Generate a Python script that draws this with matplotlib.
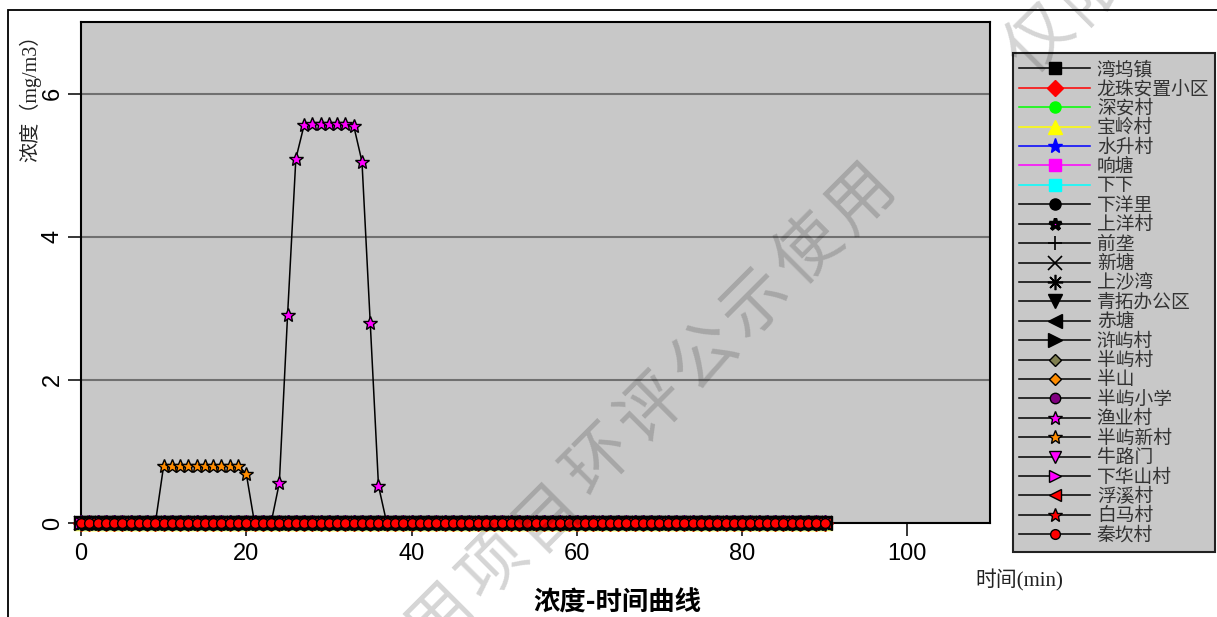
import matplotlib
matplotlib.use("Agg")
import matplotlib.pyplot as plt
from matplotlib.patches import Rectangle

# ---------------- data ----------------
time_min = list(range(0, 91))

zero_series = [0.0, 0.0, 0.0, 0.0, 0.0, 0.0, 0.0, 0.0, 0.0, 0.0,
               0.0, 0.0, 0.0, 0.0, 0.0, 0.0, 0.0, 0.0, 0.0, 0.0,
               0.0, 0.0, 0.0, 0.0, 0.0, 0.0, 0.0, 0.0, 0.0, 0.0,
               0.0, 0.0, 0.0, 0.0, 0.0, 0.0, 0.0, 0.0, 0.0, 0.0,
               0.0, 0.0, 0.0, 0.0, 0.0, 0.0, 0.0, 0.0, 0.0, 0.0,
               0.0, 0.0, 0.0, 0.0, 0.0, 0.0, 0.0, 0.0, 0.0, 0.0,
               0.0, 0.0, 0.0, 0.0, 0.0, 0.0, 0.0, 0.0, 0.0, 0.0,
               0.0, 0.0, 0.0, 0.0, 0.0, 0.0, 0.0, 0.0, 0.0, 0.0,
               0.0, 0.0, 0.0, 0.0, 0.0, 0.0, 0.0, 0.0, 0.0, 0.0,
               0.0]

yuye_cun = [0.0, 0.0, 0.0, 0.0, 0.0, 0.0, 0.0, 0.0, 0.0, 0.0,
            0.0, 0.0, 0.0, 0.0, 0.0, 0.0, 0.0, 0.0, 0.0, 0.0,
            0.0, 0.0, 0.0, 0.0, 0.56, 2.91, 5.09, 5.56, 5.57, 5.57,
            5.58, 5.57, 5.57, 5.55, 5.05, 2.80, 0.52, 0.0, 0.0, 0.0,
            0.0, 0.0, 0.0, 0.0, 0.0, 0.0, 0.0, 0.0, 0.0, 0.0,
            0.0, 0.0, 0.0, 0.0, 0.0, 0.0, 0.0, 0.0, 0.0, 0.0,
            0.0, 0.0, 0.0, 0.0, 0.0, 0.0, 0.0, 0.0, 0.0, 0.0,
            0.0, 0.0, 0.0, 0.0, 0.0, 0.0, 0.0, 0.0, 0.0, 0.0,
            0.0, 0.0, 0.0, 0.0, 0.0, 0.0, 0.0, 0.0, 0.0, 0.0,
            0.0]

banyu_xincun = [0.0, 0.0, 0.0, 0.0, 0.0, 0.0, 0.0, 0.0, 0.0, 0.0,
                0.80, 0.80, 0.80, 0.80, 0.80, 0.80, 0.80, 0.80, 0.80, 0.80,
                0.69, 0.0, 0.0, 0.0, 0.0, 0.0, 0.0, 0.0, 0.0, 0.0,
                0.0, 0.0, 0.0, 0.0, 0.0, 0.0, 0.0, 0.0, 0.0, 0.0,
                0.0, 0.0, 0.0, 0.0, 0.0, 0.0, 0.0, 0.0, 0.0, 0.0,
                0.0, 0.0, 0.0, 0.0, 0.0, 0.0, 0.0, 0.0, 0.0, 0.0,
                0.0, 0.0, 0.0, 0.0, 0.0, 0.0, 0.0, 0.0, 0.0, 0.0,
                0.0, 0.0, 0.0, 0.0, 0.0, 0.0, 0.0, 0.0, 0.0, 0.0,
                0.0, 0.0, 0.0, 0.0, 0.0, 0.0, 0.0, 0.0, 0.0, 0.0,
                0.0]

site_names = ["湾坞镇", "龙珠安置小区", "深安村", "宝岭村", "水升村", "响塘", "下下",
              "下洋里", "上洋村", "前垄", "新塘", "上沙湾", "青拓办公区", "赤塘",
              "浒屿村", "半屿村", "半山", "半屿小学", "渔业村", "半屿新村", "牛路门",
              "下华山村", "浮溪村", "白马村", "秦坎村"]

site_values = {name: zero_series for name in site_names}
site_values["渔业村"] = yuye_cun
site_values["半屿新村"] = banyu_xincun

x_ticks = [0, 20, 40, 60, 80, 100]
y_ticks = [0, 2, 4, 6]

# ---------------- styles ----------------
# (marker, face color, edge color, line color, markersize, edge width)
styles = {
    "湾坞镇":     ("s", "black", "black", "black", 8, 1.0),
    "龙珠安置小区": ("D", "red", "red", "red", 8, 1.0),
    "深安村":     ("o", "#00ff00", "#00ff00", "#00ff00", 8, 1.0),
    "宝岭村":     ("^", "yellow", "yellow", "yellow", 10.5, 1.0),
    "水升村":     ("*", "blue", "blue", "blue", 11, 1.0),
    "响塘":       ("s", "magenta", "magenta", "magenta", 8, 1.0),
    "下下":       ("s", "cyan", "cyan", "cyan", 8, 1.0),
    "下洋里":     ("o", "black", "black", "black", 8, 1.0),
    "上洋村":     ("*", "magenta", "black", "black", 9, 2.5),
    "前垄":       ("+", "black", "black", "black", 10, 1.2),
    "新塘":       ("x", "black", "black", "black", 10, 1.2),
    "上沙湾":     ((8, 2, 0), "black", "black", "black", 11, 1.2),
    "青拓办公区":  ("v", "black", "black", "black", 10, 1.0),
    "赤塘":       ("<", "black", "black", "black", 10, 1.0),
    "浒屿村":     (">", "black", "black", "black", 10, 1.0),
    "半屿村":     ("D", "#808050", "black", "black", 6.5, 1.0),
    "半山":       ("D", "#ff8c00", "black", "black", 6.5, 1.0),
    "半屿小学":   ("o", "#800080", "black", "black", 7.5, 1.0),
    "渔业村":     ("*", "magenta", "black", "black", 10, 1.0),
    "半屿新村":   ("*", "#ff8c00", "black", "black", 10, 1.0),
    "牛路门":     ("v", "magenta", "black", "black", 9, 1.0),
    "下华山村":   (">", "magenta", "black", "black", 9, 1.0),
    "浮溪村":     ("<", "red", "black", "black", 9, 1.0),
    "白马村":     ("*", "red", "black", "black", 10, 1.0),
    "秦坎村":     ("o", "red", "black", "black", 7, 1.0),
}

CJK = ["Noto Sans CJK SC", "DejaVu Sans"]
SERIF_CJK = ["Liberation Serif", "Noto Sans CJK SC", "DejaVu Sans"]
NUM = ["Liberation Sans Narrow", "Liberation Sans", "DejaVu Sans"]
plt.rcParams["font.family"] = CJK
plt.rcParams["axes.unicode_minus"] = False

W, H = 1217, 617
fig = plt.figure(figsize=(W / 100, H / 100), dpi=100)
fig.patch.set_facecolor("white")

ax_l, ax_r, ax_t, ax_b = 81, 990, 22, 523
ax = fig.add_axes([ax_l / W, 1 - ax_b / H, (ax_r - ax_l) / W, (ax_b - ax_t) / H])
ax.set_facecolor("#c8c8c8")

handles = []
for name in site_names:
    m, fc, ec, lc, ms, mew = styles[name]
    h, = ax.plot(time_min, site_values[name], color=lc, lw=1.1, marker=m,
                 markerfacecolor=fc, markeredgecolor=ec, markersize=ms,
                 markeredgewidth=mew, clip_on=False, label=name, zorder=3)
    handles.append(h)

ax.set_xlim(0, 110)
ax.set_ylim(0, 7)
ax.set_xticks(x_ticks)
ax.set_yticks(y_ticks)
ax.set_xticklabels([str(v) for v in x_ticks], fontfamily=NUM, fontsize=17)
ax.set_yticklabels([str(v) for v in y_ticks], fontfamily=NUM, fontsize=17,
                   rotation=90, va="center")
ax.tick_params(axis="both", direction="out", length=9.5, width=1.1, color="black")
ax.tick_params(axis="x", pad=5)
ax.tick_params(axis="y", pad=3)
ax.yaxis.grid(True, color="#707070", lw=1.5)
ax.set_axisbelow(True)
for sp in ax.spines.values():
    sp.set_linewidth(1.5)
    sp.set_color("black")

# legend
leg = ax.legend(handles, site_names, loc="upper left",
                bbox_to_anchor=(1013 / W, 1 - 53 / H), bbox_transform=fig.transFigure,
                borderaxespad=0, prop={"family": CJK, "size": 13.5},
                handlelength=3.8, handletextpad=0.35, labelspacing=-0.085,
                borderpad=0.32, frameon=True, fancybox=False, framealpha=1,
                facecolor="#c8c8c8", edgecolor="#222222", numpoints=1)
leg.get_frame().set_linewidth(1.5)
for t in leg.get_texts():
    t.set_color("#333333")

# axis labels and title
fig.text(30 / W, 1 - 93 / H, "浓度（mg/m3）", rotation=90, ha="center", va="center",
         fontsize=14.5, family=SERIF_CJK, color="#222222")
fig.text(975 / W, 1 - 580 / H, "时间(min)", ha="left", va="center",
         fontsize=15, family=SERIF_CJK, color="#222222")
fig.text(617 / W, 1 - 603 / H, "浓度-时间曲线", ha="center", va="center",
         fontsize=19, family=CJK, fontweight="bold", color="black")

# outer frame
fig.add_artist(Rectangle((8 / W, -20 / H), 1240 / W, (607 + 20) / H, fill=False,
                         ec="black", lw=1.3, transform=fig.transFigure))

# watermark (one glyph per position along a 45 degree diagonal)
def watermark(text, x0, y0, step=52.5, size=48):
    for i, ch in enumerate(text):
        fig.text((x0 + i * step) / W, 1 - (y0 - i * step) / H, ch, rotation=45,
                 ha="center", va="center", fontsize=size, family=CJK,
                 color="black", alpha=0.17, rotation_mode="anchor")

watermark("用项目环评公示使用", 441.5, 618.5)
watermark("仅限", 1040, 40)

fig.savefig("out.png", dpi=100)
